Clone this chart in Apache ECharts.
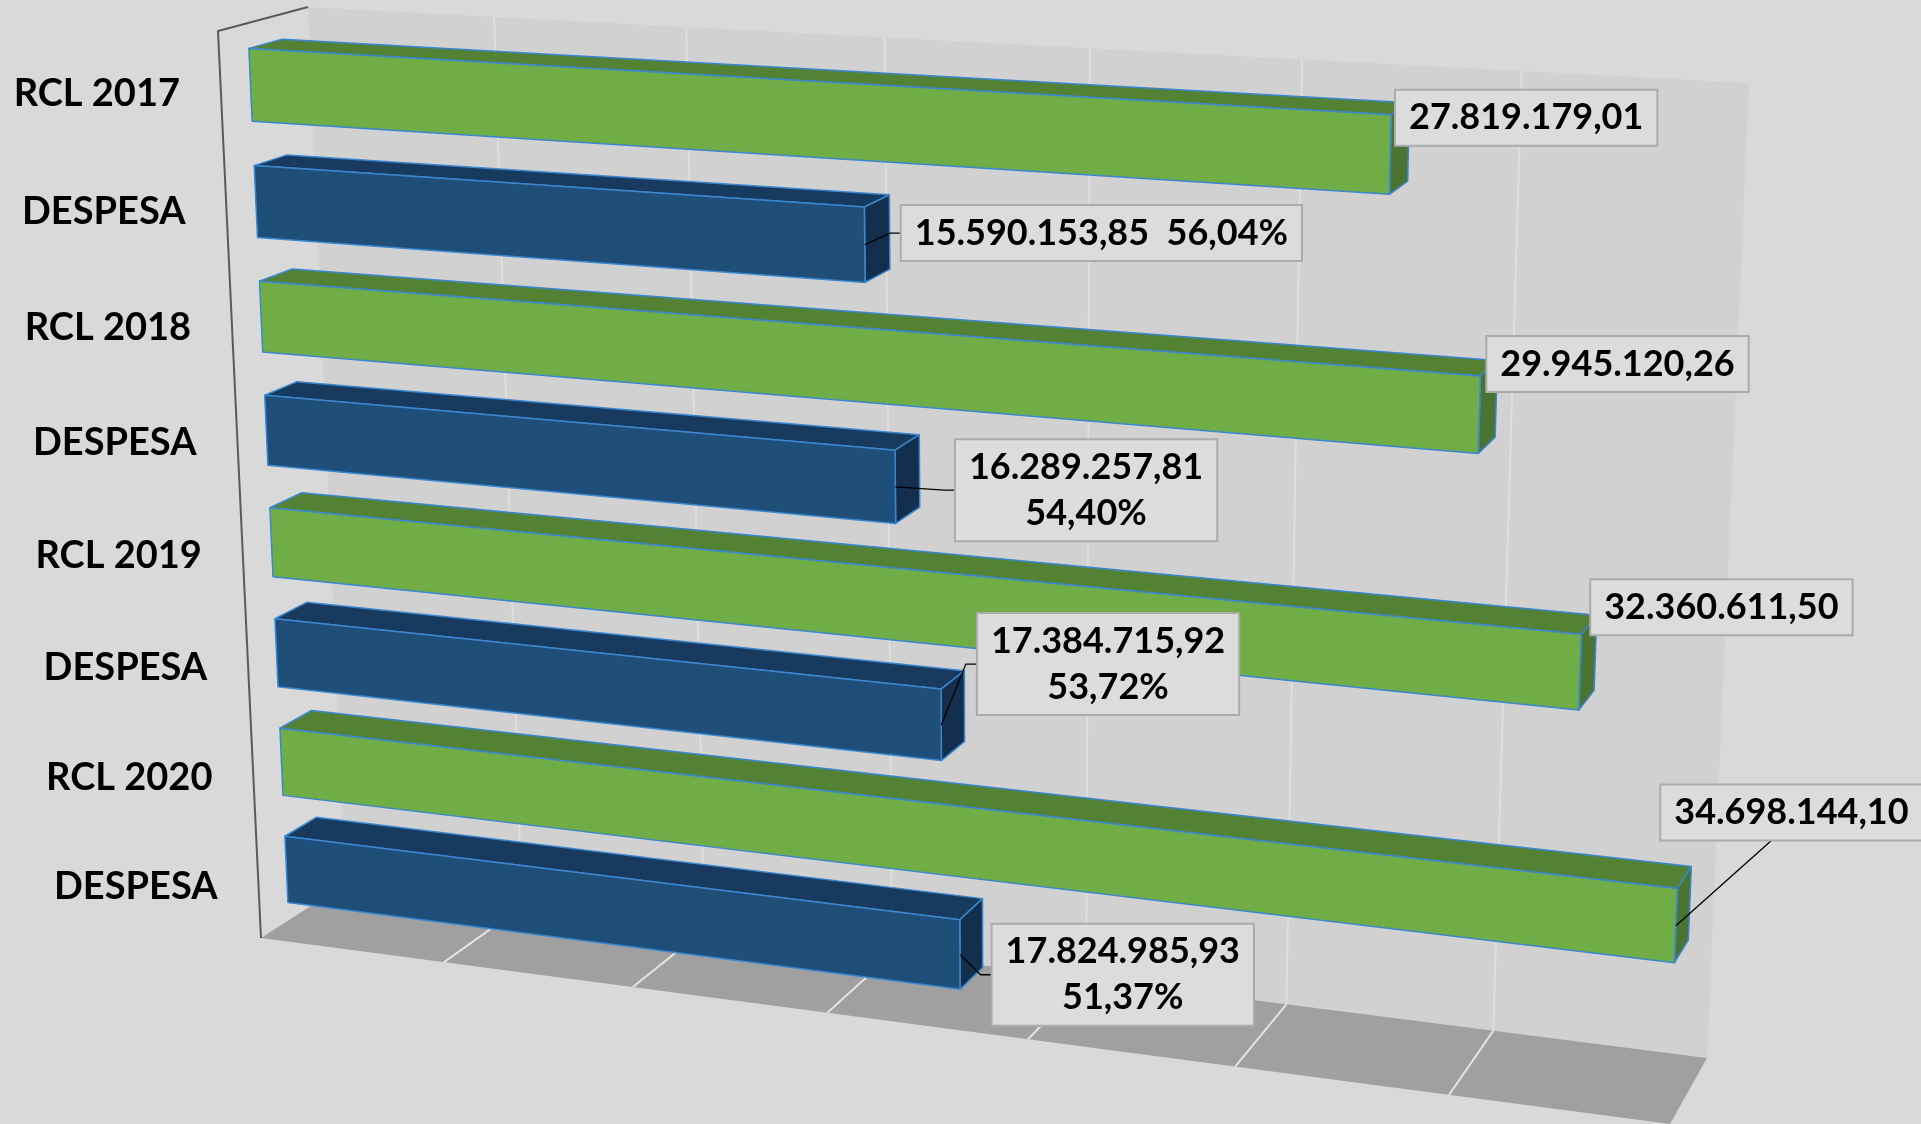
<!DOCTYPE html>
<html>
<head>
<meta charset="utf-8">
<title>RCL x Despesa</title>
<style>
  html, body { margin: 0; padding: 0; background: #d9d9d9; }
  #main { width: 1921px; height: 1124px; }
</style>
</head>
<body>
<div id="main"></div>
<script src="https://cdn.jsdelivr.net/npm/echarts@6/dist/echarts.min.js"></script>
<script>
// dados
var categorias = ['RCL 2017', 'DESPESA', 'RCL 2018', 'DESPESA', 'RCL 2019', 'DESPESA', 'RCL 2020', 'DESPESA'];
var rcl = [27819179.01, 29945120.26, 32360611.50, 34698144.10];
var despesa = [15590153.85, 16289257.81, 17384715.92, 17824985.93];
var ticksX = [0, 5000000, 10000000, 15000000, 20000000, 25000000, 30000000, 35000000];

// barras intercaladas RCL / DESPESA
var valores = [];
rcl.forEach(function (v, k) { valores.push(v); valores.push(despesa[k]); });

// ajustes de rótulos (deslocamento do centro da caixa em px, a partir da quina da barra)
var labelOffsets = [[135, 3], [237, 26], [137, -12], [191, 40], [140, -27], [167, -25], [114, -76], [163, 55]];
var umaLinha = [false, true, false, false, false, false, false, false];

// caixa 3D (cantos em pixels): plano da frente e parede do fundo
var FRENTE = [[218, 31], [1711, 117], [1670, 1124], [261, 938]];
var FUNDO = [[308, 7], [1749, 83], [1707, 1058], [345, 884]];
var WF = 0.33, WB = 0.70, VSHIFT = 0.003, LARG = 0.62;

function homografia(q) {
    var x0 = q[0][0], y0 = q[0][1], x1 = q[1][0], y1 = q[1][1];
    var x2 = q[2][0], y2 = q[2][1], x3 = q[3][0], y3 = q[3][1];
    var sx = x0 - x1 + x2 - x3, sy = y0 - y1 + y2 - y3;
    var dx1 = x1 - x2, dx2 = x3 - x2, dy1 = y1 - y2, dy2 = y3 - y2;
    var den = dx1 * dy2 - dx2 * dy1;
    var g = (sx * dy2 - dx2 * sy) / den, h = (dx1 * sy - sx * dy1) / den;
    var a = x1 - x0 + g * x1, b = x3 - x0 + h * x3, c = x0;
    var d = y1 - y0 + g * y1, e = y3 - y0 + h * y3, f = y0;
    return function (u, v) {
        var z = g * u + h * v + 1;
        return [(a * u + b * v + c) / z, (d * u + e * v + f) / z];
    };
}
var hF = homografia(FRENTE), hB = homografia(FUNDO);
function P(u, v, w) {
    var a = hF(u, v), b = hB(u, v);
    return [a[0] + (b[0] - a[0]) * w, a[1] + (b[1] - a[1]) * w];
}

function fmt(n) {
    var p = n.toFixed(2).split('.');
    return p[0].replace(/\B(?=(\d{3})+(?!\d))/g, '.') + ',' + p[1];
}
function textoRotulo(i) {
    var k = Math.floor(i / 2);
    if (i % 2 === 0) return [fmt(rcl[k])];
    var pct = (despesa[k] / rcl[k] * 100).toFixed(2).replace('.', ',') + '%';
    return umaLinha[i] ? [fmt(despesa[k]) + '  ' + pct] : [fmt(despesa[k]), pct];
}

var ctx = document.createElement('canvas').getContext('2d');
var FONTE = 'Lato';
ctx.font = 'bold 36px ' + FONTE;

// posição normalizada (u, v) de uma barra a partir dos eixos
function geom(params, api) {
    var cs = params.coordSys;
    var idx = api.value(1);
    var p0 = api.coord([0, idx]), p1 = api.coord([api.value(0), idx]);
    var band = api.size([0, 1])[1];
    var vc = (p0[1] - cs.y) / cs.height + VSHIFT;
    var hv = band / cs.height * LARG / 2;
    return {
        u0: (p0[0] - cs.x) / cs.width, u1: (p1[0] - cs.x) / cs.width,
        vt: vc - hv, vb: vc + hv, vc: vc
    };
}
function poly(pts, fill) {
    return { type: 'polygon', shape: { points: pts },
             style: { fill: fill, stroke: '#3a87d0', lineWidth: 1.5, lineJoin: 'round' } };
}

function renderCaixa(params, api) {
    return {
        type: 'group',
        children: [
            { type: 'polygon', shape: { points: [P(0, 0, 1), P(1, 0, 1), P(1, 1, 1), P(0, 1, 1)] },
              style: { fill: '#d2d1d2' } },
            { type: 'polygon', shape: { points: [P(0, 1, 0), P(1, 1, 0), P(1, 1, 1), P(0, 1, 1)] },
              style: { fill: '#a0a0a0' } },
            { type: 'polyline', shape: { points: [P(0, 0, 1), P(0, 0, 0), P(0, 1, 0)] },
              style: { stroke: '#5a5a5a', lineWidth: 2, fill: null } }
        ]
    };
}

function renderGrade(params, api) {
    var cs = params.coordSys;
    var u = (api.coord([api.value(0), 0])[0] - cs.x) / cs.width;
    return {
        type: 'group',
        children: [
            { type: 'polyline', shape: { points: [P(u, 0, 1), P(u, 1, 1)] },
              style: { stroke: '#dedede', lineWidth: 2, fill: null } },
            { type: 'polyline', shape: { points: [P(u, 1, 1), P(u, 1, 0)] },
              style: { stroke: '#e4e4e4', lineWidth: 2, fill: null } }
        ]
    };
}

function renderBarra(params, api) {
    var g = geom(params, api);
    var rclBar = params.dataIndex % 2 === 0;
    var cFrente = rclBar ? '#70ad47' : '#1f4e79';
    var cTopo = rclBar ? '#548235' : '#173a5e';
    var cFim = rclBar ? '#4b7331' : '#142f4e';
    return {
        type: 'group',
        children: [
            poly([P(g.u0, g.vt, WF), P(g.u1, g.vt, WF), P(g.u1, g.vt, WB), P(g.u0, g.vt, WB)], cTopo),
            poly([P(g.u1, g.vt, WF), P(g.u1, g.vt, WB), P(g.u1, g.vb, WB), P(g.u1, g.vb, WF)], cFim),
            poly([P(g.u0, g.vt, WF), P(g.u1, g.vt, WF), P(g.u1, g.vb, WF), P(g.u0, g.vb, WF)], cFrente)
        ]
    };
}

var PADX = 14, PADY = 5, LH = 46;
function renderRotulo(params, api) {
    var i = params.dataIndex;
    var g = geom(params, api);
    var quina = P(g.u1, g.vt, WF);
    var meio = P(g.u1, g.vc, WF);
    var linhas = textoRotulo(i);
    var wMax = 0;
    linhas.forEach(function (t) { wMax = Math.max(wMax, ctx.measureText(t).width); });
    var bw = wMax + 2 * PADX, bh = linhas.length * LH + 2 * PADY;
    var cx = quina[0] + labelOffsets[i][0], cy = quina[1] + labelOffsets[i][1];
    var esq = cx - bw / 2, topo = cy - bh / 2;
    var filhos = [];

    // linha de chamada (só quando o rótulo foi afastado da barra)
    if (esq - meio[0] > 30) {
        filhos.push({ type: 'polyline', shape: { points: [meio, [esq - 11, cy], [esq, cy]] },
                      style: { stroke: '#000', lineWidth: 1.3, fill: null } });
    } else if (esq < meio[0] && topo + bh < meio[1] - 20) {
        filhos.push({ type: 'polyline', shape: { points: [meio, [cx - 20, topo + bh]] },
                      style: { stroke: '#000', lineWidth: 1.3, fill: null } });
    }
    filhos.push({ type: 'rect', shape: { x: esq, y: topo, width: bw, height: bh },
                  style: { fill: '#dcdcdc', stroke: '#ababab', lineWidth: 2 } });
    linhas.forEach(function (t, k) {
        filhos.push({ type: 'text', x: cx, y: topo + PADY + LH * (k + 0.5),
                      style: { text: t, fill: '#000', fontSize: 36, fontWeight: 'bold', fontFamily: FONTE,
                               align: 'center', verticalAlign: 'middle' } });
    });

    // nome da categoria, no plano da frente
    var pc = P(0, g.vc, 0);
    filhos.push({ type: 'text', x: pc[0] - 41, y: pc[1],
                  style: { text: categorias[i], fill: '#000', fontSize: 38, fontWeight: 'bold', fontFamily: FONTE,
                           align: 'right', verticalAlign: 'middle' } });
    return { type: 'group', children: filhos };
}

var myChart = echarts.init(document.getElementById('main'));
var dadosBarras = valores.map(function (v, i) { return [v, i]; });

var option = {
    backgroundColor: '#d9d9d9',
    animation: false,
    grid: { left: 100, top: 100, width: 800, height: 800 },
    xAxis: { type: 'value', min: 0, max: 35000000, interval: 5000000, show: false },
    yAxis: { type: 'category', data: categorias, inverse: true, show: false },
    series: [
        { type: 'custom', name: 'caixa', z: 1, clip: false, renderItem: renderCaixa, data: [[0, 0]] },
        { type: 'custom', name: 'grade', z: 2, clip: false, renderItem: renderGrade,
          data: ticksX.slice(1, -1).map(function (t) { return [t, 0]; }) },
        { type: 'custom', name: 'barras', z: 3, clip: false, renderItem: renderBarra,
          encode: { x: 0, y: 1 }, data: dadosBarras },
        { type: 'custom', name: 'rotulos', z: 4, clip: false, renderItem: renderRotulo,
          encode: { x: 0, y: 1 }, data: dadosBarras }
    ]
};
myChart.setOption(option);
</script>
</body>
</html>
